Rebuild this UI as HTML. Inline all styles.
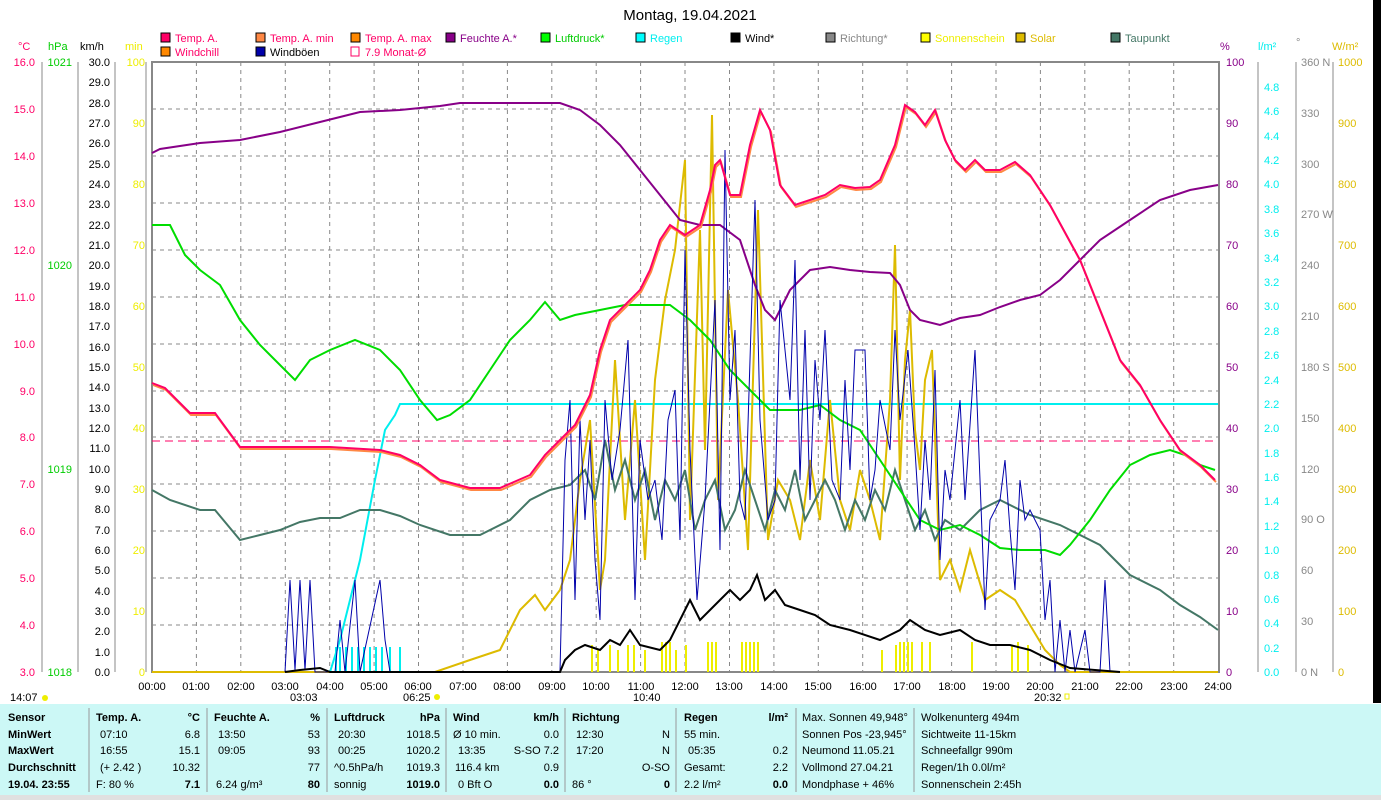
<!DOCTYPE html>
<html><head><meta charset="utf-8"><style>
body{margin:0;background:#fff;width:1381px;height:800px;overflow:hidden;font-family:"Liberation Sans",sans-serif}
svg text{font-family:"Liberation Sans",sans-serif;font-size:11px}
</style></head><body>
<svg width="1381" height="800" xmlns="http://www.w3.org/2000/svg">
<rect width="1381" height="800" fill="#fff"/>
<rect x="1373" y="0" width="8" height="703" fill="#000"/>
<text x="690" y="20" font-size="15" text-anchor="middle" style="font-size:15px">Montag, 19.04.2021</text>
<!-- legend -->
<g font-size="11">
<rect x="161" y="33" width="9" height="9" fill="#f06" stroke="#000"/><text x="175" y="42" fill="#f06">Temp. A.</text>
<rect x="256" y="33" width="9" height="9" fill="#f84" stroke="#000"/><text x="270" y="42" fill="#f06">Temp. A. min</text>
<rect x="351" y="33" width="9" height="9" fill="#f80" stroke="#000"/><text x="365" y="42" fill="#f06">Temp. A. max</text>
<rect x="446" y="33" width="9" height="9" fill="#808" stroke="#000"/><text x="460" y="42" fill="#808">Feuchte A.*</text>
<rect x="541" y="33" width="9" height="9" fill="#0f0" stroke="#000"/><text x="555" y="42" fill="#0c0">Luftdruck*</text>
<rect x="636" y="33" width="9" height="9" fill="#0ff" stroke="#000"/><text x="650" y="42" fill="#0ee">Regen</text>
<rect x="731" y="33" width="9" height="9" fill="#000" stroke="#000"/><text x="745" y="42" fill="#000">Wind*</text>
<rect x="826" y="33" width="9" height="9" fill="#888" stroke="#000"/><text x="840" y="42" fill="#888">Richtung*</text>
<rect x="921" y="33" width="9" height="9" fill="#ff0" stroke="#000"/><text x="935" y="42" fill="#ee0">Sonnenschein</text>
<rect x="1016" y="33" width="9" height="9" fill="#db0" stroke="#000"/><text x="1030" y="42" fill="#db0">Solar</text>
<rect x="1111" y="33" width="9" height="9" fill="#476" stroke="#000"/><text x="1125" y="42" fill="#476">Taupunkt</text>
<rect x="161" y="47" width="9" height="9" fill="#f80" stroke="#000"/><text x="175" y="56" fill="#f06">Windchill</text>
<rect x="256" y="47" width="9" height="9" fill="#00a" stroke="#000"/><text x="270" y="56" fill="#000">Windböen</text>
<rect x="351" y="47" width="8" height="9" fill="none" stroke="#f06"/><text x="365" y="56" fill="#f06">7.9 Monat-Ø</text>
</g>
<!-- axis titles -->
<text x="18" y="50" fill="#f06">°C</text><text x="48" y="50" fill="#0c0">hPa</text><text x="80" y="50">km/h</text><text x="125" y="50" fill="#ee0">min</text>
<text x="1220" y="50" fill="#808">%</text><text x="1258" y="50" fill="#0ee">l/m²</text><text x="1296" y="46" fill="#888">°</text><text x="1332" y="50" fill="#db0">W/m²</text>
<!-- grid -->
<g stroke="#888" stroke-dasharray="4,4" stroke-width="1">
<path d="M196.4 62V672M240.8 62V672M285.3 62V672M329.7 62V672M374.1 62V672M418.5 62V672M463 62V672M507.4 62V672M551.8 62V672M596.2 62V672M640.6 62V672M685 62V672M729.5 62V672M773.9 62V672M818.3 62V672M862.7 62V672M907.1 62V672M951.6 62V672M996 62V672M1040.4 62V672M1084.8 62V672M1129.2 62V672M1173.7 62V672"/>
<path d="M152 109H1218M152 156H1218M152 203H1218M152 250H1218M152 297H1218M152 344H1218M152 391H1218M152 437H1218M152 484H1218M152 531H1218M152 578H1218M152 625H1218"/>
</g>
<rect x="152" y="62" width="1067" height="610" fill="none" stroke="#888" stroke-width="2"/>
<!-- left axes -->
<g stroke="#888"><path d="M42 62V672M78 62V672M115 62V672M146 62V672"/></g>
<g fill="#f06" text-anchor="end">
<text x="35" y="66">16.0</text><text x="35" y="113">15.0</text><text x="35" y="160">14.0</text><text x="35" y="207">13.0</text><text x="35" y="254">12.0</text><text x="35" y="301">11.0</text><text x="35" y="348">10.0</text><text x="35" y="395">9.0</text><text x="35" y="441">8.0</text><text x="35" y="488">7.0</text><text x="35" y="535">6.0</text><text x="35" y="582">5.0</text><text x="35" y="629">4.0</text><text x="35" y="676">3.0</text></g>
<g fill="#0c0" text-anchor="end"><text x="72" y="66">1021</text><text x="72" y="269">1020</text><text x="72" y="473">1019</text><text x="72" y="676">1018</text></g>
<g text-anchor="end" font-size="11">
<text x="110" y="66">30.0</text><text x="110" y="86">29.0</text><text x="110" y="107">28.0</text><text x="110" y="127">27.0</text><text x="110" y="147">26.0</text><text x="110" y="168">25.0</text><text x="110" y="188">24.0</text><text x="110" y="208">23.0</text><text x="110" y="229">22.0</text><text x="110" y="249">21.0</text><text x="110" y="269">20.0</text><text x="110" y="290">19.0</text><text x="110" y="310">18.0</text><text x="110" y="330">17.0</text><text x="110" y="351">16.0</text><text x="110" y="371">15.0</text><text x="110" y="391">14.0</text><text x="110" y="412">13.0</text><text x="110" y="432">12.0</text><text x="110" y="452">11.0</text><text x="110" y="473">10.0</text><text x="110" y="493">9.0</text><text x="110" y="513">8.0</text><text x="110" y="534">7.0</text><text x="110" y="554">6.0</text><text x="110" y="574">5.0</text><text x="110" y="595">4.0</text><text x="110" y="615">3.0</text><text x="110" y="635">2.0</text><text x="110" y="656">1.0</text><text x="110" y="676">0.0</text></g>
<g fill="#ee0" text-anchor="end"><text x="145" y="66">100</text><text x="145" y="127">90</text><text x="145" y="188">80</text><text x="145" y="249">70</text><text x="145" y="310">60</text><text x="145" y="371">50</text><text x="145" y="432">40</text><text x="145" y="493">30</text><text x="145" y="554">20</text><text x="145" y="615">10</text><text x="145" y="676">0</text></g>
<!-- right axes -->
<g stroke="#888"><path d="M1258 62V672M1296 62V672M1333 62V672"/></g>
<g fill="#808"><text x="1226" y="66">100</text><text x="1226" y="127">90</text><text x="1226" y="188">80</text><text x="1226" y="249">70</text><text x="1226" y="310">60</text><text x="1226" y="371">50</text><text x="1226" y="432">40</text><text x="1226" y="493">30</text><text x="1226" y="554">20</text><text x="1226" y="615">10</text><text x="1226" y="676">0</text></g>
<g fill="#0ee"><text x="1264" y="91">4.8</text><text x="1264" y="115">4.6</text><text x="1264" y="140">4.4</text><text x="1264" y="164">4.2</text><text x="1264" y="188">4.0</text><text x="1264" y="213">3.8</text><text x="1264" y="237">3.6</text><text x="1264" y="262">3.4</text><text x="1264" y="286">3.2</text><text x="1264" y="310">3.0</text><text x="1264" y="335">2.8</text><text x="1264" y="359">2.6</text><text x="1264" y="384">2.4</text><text x="1264" y="408">2.2</text><text x="1264" y="432">2.0</text><text x="1264" y="457">1.8</text><text x="1264" y="481">1.6</text><text x="1264" y="505">1.4</text><text x="1264" y="530">1.2</text><text x="1264" y="554">1.0</text><text x="1264" y="579">0.8</text><text x="1264" y="603">0.6</text><text x="1264" y="627">0.4</text><text x="1264" y="652">0.2</text><text x="1264" y="676">0.0</text></g>
<g fill="#888"><text x="1301" y="66">360 N</text><text x="1301" y="117">330</text><text x="1301" y="168">300</text><text x="1301" y="218">270 W</text><text x="1301" y="269">240</text><text x="1301" y="320">210</text><text x="1301" y="371">180 S</text><text x="1301" y="422">150</text><text x="1301" y="473">120</text><text x="1301" y="523">90 O</text><text x="1301" y="574">60</text><text x="1301" y="625">30</text><text x="1301" y="676">0 N</text></g>
<g fill="#db0"><text x="1338" y="66">1000</text><text x="1338" y="127">900</text><text x="1338" y="188">800</text><text x="1338" y="249">700</text><text x="1338" y="310">600</text><text x="1338" y="371">500</text><text x="1338" y="432">400</text><text x="1338" y="493">300</text><text x="1338" y="554">200</text><text x="1338" y="615">100</text><text x="1338" y="676">0</text></g>
<!-- x labels -->
<g text-anchor="middle" font-size="11"><text x="152" y="690">00:00</text><text x="196" y="690">01:00</text><text x="241" y="690">02:00</text><text x="285" y="690">03:00</text><text x="330" y="690">04:00</text><text x="374" y="690">05:00</text><text x="418" y="690">06:00</text><text x="463" y="690">07:00</text><text x="507" y="690">08:00</text><text x="552" y="690">09:00</text><text x="596" y="690">10:00</text><text x="641" y="690">11:00</text><text x="685" y="690">12:00</text><text x="729" y="690">13:00</text><text x="774" y="690">14:00</text><text x="818" y="690">15:00</text><text x="863" y="690">16:00</text><text x="907" y="690">17:00</text><text x="952" y="690">18:00</text><text x="996" y="690">19:00</text><text x="1040" y="690">20:00</text><text x="1085" y="690">21:00</text><text x="1129" y="690">22:00</text><text x="1174" y="690">23:00</text><text x="1218" y="690">24:00</text></g>
<g font-size="11"><text x="10" y="701">14:07</text><circle cx="45" cy="698" r="3" fill="#ee0"/><text x="290" y="701">03:03</text><text x="403" y="701">06:25</text><circle cx="437" cy="697" r="3" fill="#ee0"/><text x="633" y="701">10:40</text><text x="1034" y="701">20:32</text><rect x="1065" y="694" width="4" height="5" fill="none" stroke="#ee0"/></g>
<!-- sunshine bars -->
<g stroke="#ee0" stroke-width="2">
<path d="M592 645V672M598 650V672M610 645V672M618 650V672M628 645V672M634 645V672M645 650V672M662 642V672M666 642V672M670 642V672M676 650V672M686 645V672M708 642V672M712 642V672M716 642V672M742 642V672M746 642V672M750 642V672M754 642V672M758 642V672M882 650V672M896 645V672M900 642V672M904 642V672M908 642V672M912 642V672M922 642V672M930 642V672M972 642V672M1012 645V672M1018 642V672M1028 645V672"/></g>
<g stroke="#0ee" stroke-width="2"><path d="M336 647V672M340 647V672M346 647V672M352 647V672M358 647V672M364 647V672M370 647V672M376 647V672M382 647V672M390 647V672M400 647V672"/></g>
<!-- monthly avg -->
<path d="M152 441H1218" stroke="#f06" stroke-dasharray="8,5" stroke-width="1"/>
<!-- rain cumulative -->
<polyline fill="none" stroke="#0ee" stroke-width="2" points="152,672 330,672 340,640 350,600 360,560 375,480 385,430 395,415 400,404 1218,404"/>
<!-- solar -->
<polyline fill="none" stroke="#db0" stroke-width="2" points="152,672 435,672 470,660 500,650 520,610 535,595 545,610 560,590 570,560 580,480 590,420 600,590 605,560 615,360 625,520 635,400 645,560 655,380 665,300 675,250 685,160 690,520 700,230 705,450 712,115 718,500 728,290 738,400 748,550 758,210 768,540 778,480 790,500 800,540 810,460 820,520 830,400 840,500 850,530 860,470 870,500 880,540 890,400 895,245 900,480 905,360 910,310 915,430 920,470 925,380 932,350 940,580 950,560 960,590 970,550 985,600 1000,590 1015,600 1030,625 1045,650 1060,665 1070,672 1218,672"/>
<!-- dewpoint -->
<polyline fill="none" stroke="#476" stroke-width="2" points="152,490 170,500 200,510 215,510 240,540 260,535 280,530 300,522 320,518 340,518 360,510 380,510 400,516 420,525 450,535 480,535 510,520 530,500 550,490 570,485 585,470 595,500 605,440 615,490 625,460 635,500 645,470 655,520 665,480 675,500 685,470 695,530 705,500 715,480 725,530 735,510 745,470 755,500 765,530 775,490 785,510 795,470 805,520 815,500 825,480 835,500 845,530 855,500 865,520 875,490 885,510 895,470 905,500 915,530 925,510 935,540 945,520 960,530 980,510 1000,500 1030,515 1060,525 1100,545 1130,575 1160,590 1180,605 1200,617 1218,630"/>
<!-- pressure -->
<polyline fill="none" stroke="#0d0" stroke-width="2" points="152,225 170,225 185,255 200,270 220,285 240,320 260,345 275,360 295,380 310,360 330,350 355,340 380,350 400,370 420,400 437,420 450,415 470,400 490,370 510,340 530,320 545,302 560,320 575,315 600,310 625,305 670,305 690,320 710,340 730,370 750,390 770,410 800,410 820,405 840,420 860,430 880,460 900,490 920,520 940,530 960,525 980,535 1000,548 1020,550 1045,550 1060,555 1070,545 1090,520 1110,490 1130,465 1150,455 1170,450 1185,455 1200,465 1215,470"/>
<!-- humidity -->
<polyline fill="none" stroke="#808" stroke-width="2" points="152,153 160,149 200,143 240,140 280,132 320,122 360,112 400,110 440,106 460,103 560,103 580,110 600,125 620,145 640,170 660,195 680,220 700,225 720,225 740,240 755,285 765,310 775,320 790,290 810,270 830,267 850,270 870,272 890,273 900,285 910,310 920,320 940,325 960,318 980,315 1000,307 1020,300 1040,295 1060,280 1080,260 1100,240 1130,220 1160,200 1190,190 1218,185"/>
<!-- gusts -->
<polyline fill="none" stroke="#00a" stroke-width="1" points="285,672 290,580 295,670 300,580 305,670 310,580 315,672 335,672 340,620 345,672 355,580 360,672 380,580 385,640 390,672 560,672 565,460 570,400 575,600 580,420 585,520 590,440 595,560 600,620 605,400 612,480 620,430 628,340 635,600 640,440 648,500 655,480 662,540 668,420 675,390 680,540 685,250 690,450 697,600 705,500 710,400 715,300 720,550 725,150 730,400 735,330 740,500 745,520 755,200 760,420 768,520 775,500 780,300 790,400 795,260 800,480 805,330 810,500 815,360 820,420 825,330 832,480 840,500 845,380 850,470 855,350 865,350 870,500 875,470 880,400 890,450 895,330 900,420 908,350 915,450 920,530 925,440 930,500 935,370 940,560 945,470 950,500 955,450 960,400 965,500 975,350 980,480 985,610 990,520 1000,500 1005,460 1010,530 1015,590 1020,480 1025,520 1030,510 1040,530 1045,620 1050,580 1055,672 1060,620 1065,672 1070,630 1075,672 1085,630 1090,672 1100,672 1105,580 1110,672"/>
<!-- wind -->
<polyline fill="none" stroke="#000" stroke-width="2" points="285,672 300,670 320,668 330,672 560,672 565,660 575,650 585,645 600,650 610,640 620,645 630,630 640,645 660,650 670,640 680,620 690,600 700,620 710,610 720,600 730,590 740,600 750,590 757,575 765,600 775,590 785,605 800,610 815,615 830,625 850,630 880,640 900,630 910,620 925,630 940,635 960,630 975,640 990,645 1010,645 1030,650 1050,660 1070,668 1120,672"/>
<!-- temperature -->
<polyline fill="none" stroke="#f84" stroke-width="2" transform="translate(1,2)" points="152,383 165,388 190,413 215,413 240,447 330,447 380,450 400,455 420,465 440,480 470,488 500,488 530,475 545,455 560,440 575,425 590,395 600,350 610,320 625,305 640,290 650,270 660,240 670,225 685,235 700,225 710,190 715,165 720,160 730,195 740,195 750,145 760,110 770,130 780,185 795,205 810,200 825,195 840,185 855,188 870,187 880,180 895,145 905,105 915,112 925,125 935,110 945,140 955,160 965,170 975,160 985,170 1000,170 1015,162 1030,175 1050,205 1080,260 1100,310 1120,360 1140,385 1160,420 1180,450 1200,465 1215,480"/>
<polyline fill="none" stroke="#f06" stroke-width="2" points="152,383 165,388 190,413 215,413 240,447 330,447 380,450 400,455 420,465 440,480 470,488 500,488 530,475 545,455 560,440 575,425 590,395 600,350 610,320 625,305 640,290 650,270 660,240 670,225 685,235 700,225 710,190 715,165 720,160 730,195 740,195 750,145 760,110 770,130 780,185 795,205 810,200 825,195 840,185 855,188 870,187 880,180 895,145 905,105 915,112 925,125 935,110 945,140 955,160 965,170 975,160 985,170 1000,170 1015,162 1030,175 1050,205 1080,260 1100,310 1120,360 1140,385 1160,420 1180,450 1200,465 1215,480"/>
<!-- table -->
<rect x="0" y="704" width="1381" height="91" fill="#ccf8f6"/>
<rect x="0" y="795" width="1381" height="5" fill="#e0e0e0"/>
<g stroke="#999"><path d="M89 708V792M207 708V792M327 708V792M446 708V792M565 708V792M676 708V792M796 708V792M914 708V792"/></g>
<g font-size="11">
<g font-weight="bold"><text x="8" y="721">Sensor</text><text x="8" y="738">MinWert</text><text x="8" y="754">MaxWert</text><text x="8" y="771">Durchschnitt</text><text x="8" y="788">19.04. 23:55</text>
<text x="96" y="721">Temp. A.</text><text x="200" y="721" text-anchor="end">°C</text>
<text x="214" y="721">Feuchte A.</text><text x="320" y="721" text-anchor="end">%</text>
<text x="334" y="721">Luftdruck</text><text x="440" y="721" text-anchor="end">hPa</text>
<text x="453" y="721">Wind</text><text x="559" y="721" text-anchor="end">km/h</text>
<text x="572" y="721">Richtung</text>
<text x="684" y="721">Regen</text><text x="788" y="721" text-anchor="end">l/m²</text>
<text x="200" y="788" text-anchor="end">7.1</text><text x="320" y="788" text-anchor="end">80</text><text x="440" y="788" text-anchor="end">1019.0</text><text x="559" y="788" text-anchor="end">0.0</text><text x="670" y="788" text-anchor="end">0</text><text x="788" y="788" text-anchor="end">0.0</text></g>
<text x="100" y="738">07:10</text><text x="200" y="738" text-anchor="end">6.8</text><text x="100" y="754">16:55</text><text x="200" y="754" text-anchor="end">15.1</text><text x="100" y="771">(+ 2.42 )</text><text x="200" y="771" text-anchor="end">10.32</text><text x="96" y="788">F: 80 %</text>
<text x="218" y="738">13:50</text><text x="320" y="738" text-anchor="end">53</text><text x="218" y="754">09:05</text><text x="320" y="754" text-anchor="end">93</text><text x="320" y="771" text-anchor="end">77</text><text x="216" y="788">6.24 g/m³</text>
<text x="338" y="738">20:30</text><text x="440" y="738" text-anchor="end">1018.5</text><text x="338" y="754">00:25</text><text x="440" y="754" text-anchor="end">1020.2</text><text x="334" y="771">^0.5hPa/h</text><text x="440" y="771" text-anchor="end">1019.3</text><text x="334" y="788">sonnig</text>
<text x="453" y="738">Ø 10 min.</text><text x="559" y="738" text-anchor="end">0.0</text><text x="458" y="754">13:35</text><text x="559" y="754" text-anchor="end">S-SO 7.2</text><text x="455" y="771">116.4 km</text><text x="559" y="771" text-anchor="end">0.9</text><text x="458" y="788">0 Bft O</text>
<text x="576" y="738">12:30</text><text x="670" y="738" text-anchor="end">N</text><text x="576" y="754">17:20</text><text x="670" y="754" text-anchor="end">N</text><text x="670" y="771" text-anchor="end">O-SO</text><text x="572" y="788">86 °</text>
<text x="684" y="738">55 min.</text><text x="688" y="754">05:35</text><text x="788" y="754" text-anchor="end">0.2</text><text x="684" y="771">Gesamt:</text><text x="788" y="771" text-anchor="end">2.2</text><text x="684" y="788">2.2 l/m²</text>
<text x="802" y="721">Max. Sonnen 49,948°</text><text x="802" y="738">Sonnen Pos  -23,945°</text><text x="802" y="754">Neumond    11.05.21</text><text x="802" y="771">Vollmond    27.04.21</text><text x="802" y="788">Mondphase      + 46%</text>
<text x="921" y="721">Wolkenunterg   494m</text><text x="921" y="738">Sichtweite   11-15km</text><text x="921" y="754">Schneefallgr     990m</text><text x="921" y="771">Regen/1h     0.0l/m²</text><text x="921" y="788">Sonnenschein  2:45h</text>
</g>
</svg>
</body></html>
